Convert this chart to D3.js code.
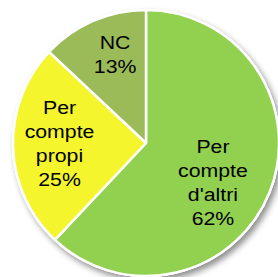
<!DOCTYPE html>
<html lang="ca">
<head>
<meta charset="UTF-8">
<title>Pie</title>
<script src="https://cdn.jsdelivr.net/npm/d3@7"></script>
<style>
  html, body { margin: 0; padding: 0; background: #fff; }
  text { font-family: "Liberation Sans", Arial, sans-serif; }
</style>
</head>
<body>
<svg id="chart" width="278" height="277"></svg>
<script>
    // data
    var categories = ["Per compte d'altri", "Per compte propi", "NC"];
    var labelLines = [["Per", "compte", "d'altri"], ["Per", "compte", "propi"], ["NC"]];
    var values = [62, 25, 13];
    var colors = ["#92d050", "#f5f52e", "#9bbb59"];

    var cx = 146, cy = 143, r = 133;
    // label placement (radius, angle nudge in degrees) -- like excel best fit
    var labelR = [78, 86.5, 93];
    var labelNudge = [9.3, 1.1, 4];

    var svg = d3.select("#chart");

    var defs = svg.append("defs");
    var f = defs.append("filter").attr("id", "shadow")
        .attr("x", "-20%").attr("y", "-20%").attr("width", "140%").attr("height", "140%");
    f.append("feDropShadow").attr("dx", 3).attr("dy", 4).attr("stdDeviation", 3)
        .attr("flood-color", "#000").attr("flood-opacity", 0.45);

    var pie = d3.pie().sort(null).value(function(d){ return d; });
    var arcs = pie(values);

    var arc = d3.arc().innerRadius(0).outerRadius(r);

    var g = svg.append("g").attr("transform", "translate(" + cx + "," + cy + ")");

    // shadow disc
    g.append("circle").attr("r", r + 1).attr("fill", "#fff").attr("filter", "url(#shadow)");

    g.selectAll("path.slice")
        .data(arcs)
        .enter().append("path")
        .attr("class", "slice")
        .attr("d", arc)
        .attr("fill", function(d, i){ return colors[i]; })
        .attr("stroke", "#fff")
        .attr("stroke-width", 2.5)
        .attr("stroke-linejoin", "round");

    var lineH = 24;
    var labels = g.selectAll("text.lbl")
        .data(arcs)
        .enter().append("text")
        .attr("class", "lbl")
        .attr("text-anchor", "middle")
        .attr("font-size", 18.5)
        .attr("fill", "#000")
        .attr("transform", function(d, i){
            var a = (d.startAngle + d.endAngle) / 2 + labelNudge[i] * Math.PI / 180;
            var x = Math.sin(a) * labelR[i], y = -Math.cos(a) * labelR[i];
            return "translate(" + x + "," + y + ") scale(1.15,1)";
        });

    labels.each(function(d, i){
        var lines = labelLines[i].concat([values[i] + "%"]);
        var t = d3.select(this);
        var y0 = -(lines.length - 1) * lineH / 2 + 6;
        lines.forEach(function(s, k){
            t.append("tspan").attr("x", 0).attr("y", y0 + k * lineH).text(s);
        });
    });
</script>
</body>
</html>
